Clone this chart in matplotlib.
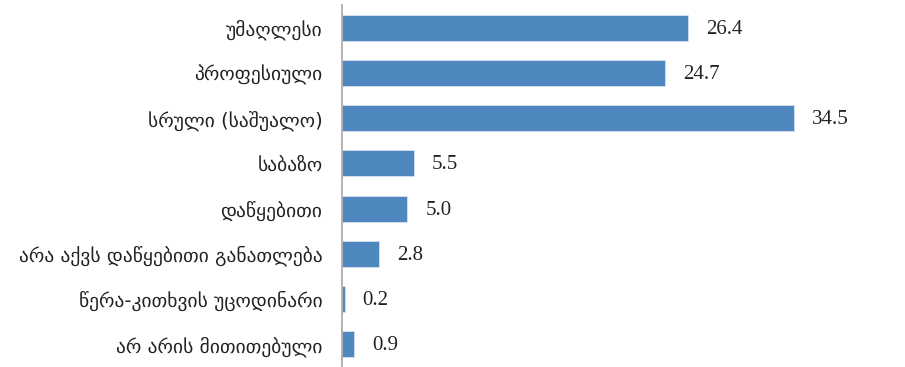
import matplotlib.pyplot as plt

categories = [
    "უმაღლესი",
    "პროფესიული",
    "სრული (საშუალო)",
    "საბაზო",
    "დაწყებითი",
    "არა აქვს დაწყებითი განათლება",
    "წერა-კითხვის უცოდინარი",
    "არ არის მითითებული",
]
values = [26.4, 24.7, 34.5, 5.5, 5.0, 2.8, 0.2, 0.9]

fig = plt.figure(figsize=(9.05, 3.67), dpi=100)
ax = fig.add_axes([342 / 905, 0, 563 / 905, 362 / 367])

ypos = list(range(len(categories)))
bars = ax.barh(ypos, values, height=0.58, color="#4f88be",
               edgecolor="#d6e3f0", linewidth=0.6)

for b, v in zip(bars, values):
    ax.annotate(f"{v:.1f}", (b.get_width(), b.get_y() + b.get_height() / 2),
                xytext=(13, -1), textcoords="offset points",
                ha="left", va="center", fontsize=15,
                family="Liberation Serif", color="#222222")

ax.set_yticks(ypos)
ax.set_yticklabels(categories, fontsize=14, family="DejaVu Sans", color="#222222")
ax.tick_params(axis="y", length=0, pad=14)
ax.set_ylim(7.5, -0.5)
ax.set_xlim(0, 43)
ax.set_xticks([])

for s in ["top", "right", "bottom"]:
    ax.spines[s].set_visible(False)
ax.spines["left"].set_color("#a6a6a6")
ax.spines["left"].set_linewidth(1.2)

fig.savefig("out.png", dpi=100)
